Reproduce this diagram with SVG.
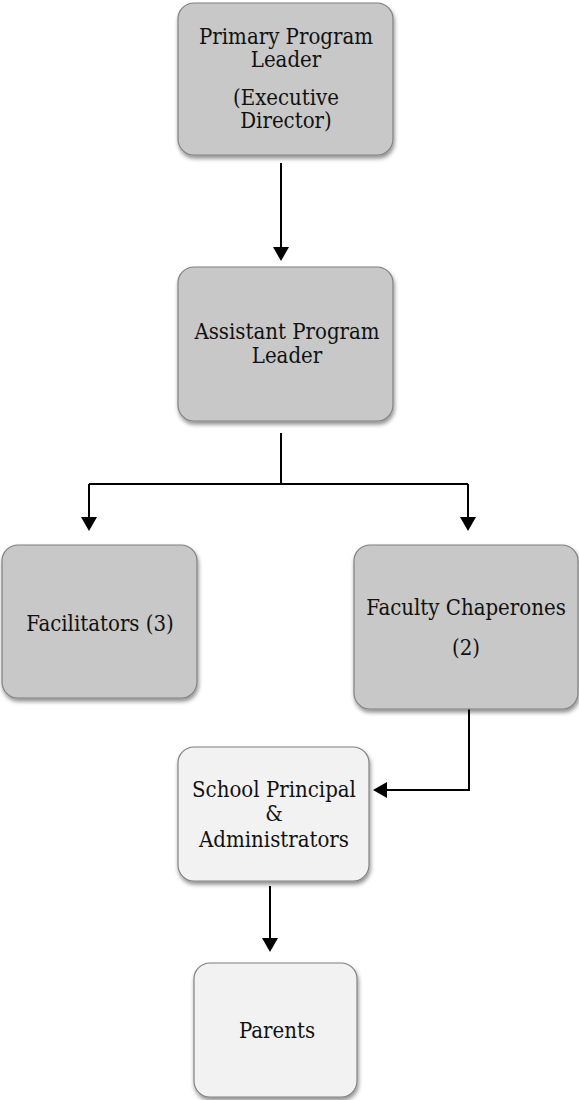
<svg xmlns="http://www.w3.org/2000/svg" width="579" height="1100" viewBox="0 0 579 1100">
<defs>
<filter id="sh" x="-10%" y="-10%" width="125%" height="125%">
<feGaussianBlur in="SourceAlpha" stdDeviation="2"/>
<feOffset dx="1" dy="3" result="b"/>
<feComponentTransfer><feFuncA type="linear" slope="0.45"/></feComponentTransfer>
<feMerge><feMergeNode/><feMergeNode in="SourceGraphic"/></feMerge>
</filter>
</defs>
<style>
.dark{fill:#c8c8c8;stroke:#808080;stroke-width:1.2}
.light{fill:#f2f2f2;stroke:#808080;stroke-width:1.2}
text{font-family:"DejaVu Serif Condensed","DejaVu Serif","Liberation Serif",serif;font-size:22px;fill:#111;text-anchor:middle}
.c{fill:none;stroke:#000;stroke-width:2}
.h{fill:#000}
</style>
<g id="connectors">
<path class="c" d="M281,163 V247"/>
<path class="h" d="M273,247 L289,247 L281,261 z"/>
<path class="c" d="M281,433 V484 M89,484 H468 M89,484 V517 M468,484 V517"/>
<path class="h" d="M81,517 L97,517 L89,531 z"/>
<path class="h" d="M460,517 L476,517 L468,531 z"/>
<path class="c" d="M469,709 V790 H387"/>
<path class="h" d="M387,782 L387,798 L373,790 z"/>
<path class="c" d="M270,886 V938"/>
<path class="h" d="M262,938 L278,938 L270,952 z"/>
</g>
<g id="primary">
<rect class="dark" x="178" y="3" width="215" height="152" rx="16" filter="url(#sh)"/>
<text x="286" y="44">Primary Program</text>
<text x="286" y="67">Leader</text>
<text x="286" y="105">(Executive</text>
<text x="286" y="128">Director)</text>
</g>
<g id="assistant">
<rect class="dark" x="178" y="267" width="215" height="154" rx="16" filter="url(#sh)"/>
<text x="287" y="339">Assistant Program</text>
<text x="287" y="363">Leader</text>
</g>
<g id="facilitators">
<rect class="dark" x="2" y="545" width="195" height="153" rx="16" filter="url(#sh)"/>
<text x="100" y="631">Facilitators (3)</text>
</g>
<g id="chaperones">
<rect class="dark" x="354" y="545" width="224" height="164" rx="16" filter="url(#sh)"/>
<text x="466" y="615">Faculty Chaperones</text>
<text x="466" y="655">(2)</text>
</g>
<g id="principal">
<rect class="light" x="178" y="747" width="191" height="134" rx="16" filter="url(#sh)"/>
<text x="274" y="797">School Principal</text>
<text x="274" y="821">&amp;</text>
<text x="274" y="847">Administrators</text>
</g>
<g id="parents">
<rect class="light" x="194" y="963" width="163" height="134" rx="16" filter="url(#sh)"/>
<text x="277" y="1038">Parents</text>
</g>
</svg>
